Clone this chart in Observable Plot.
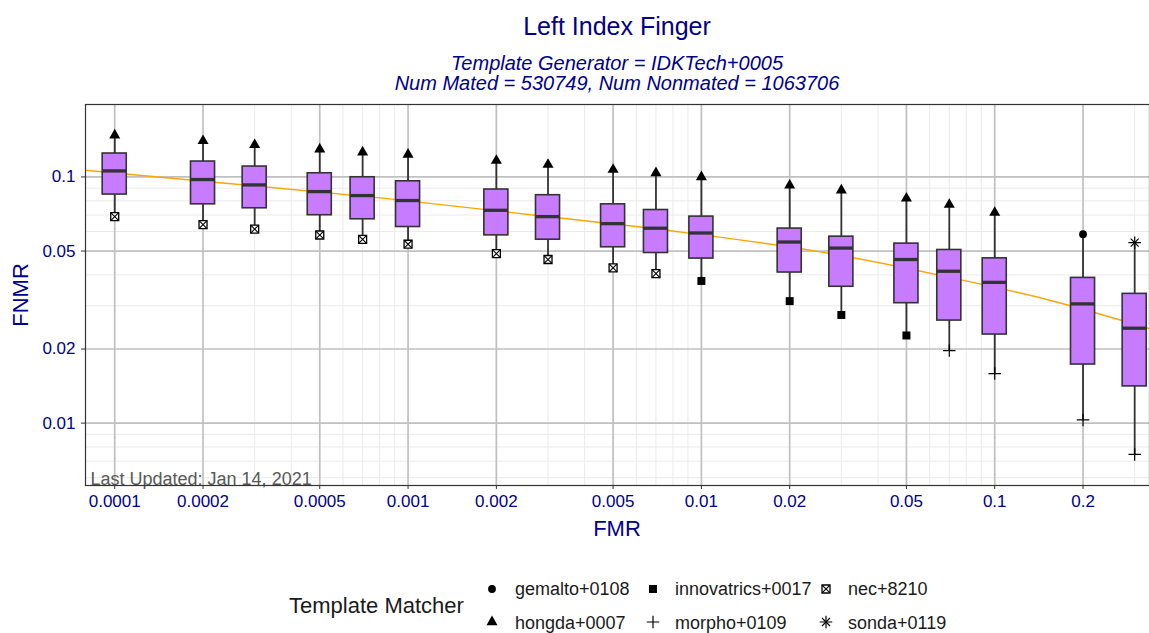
<!DOCTYPE html>
<html>
<head>
<meta charset="utf-8">
<script src="https://cdn.jsdelivr.net/npm/d3@7"></script>
<script src="https://cdn.jsdelivr.net/npm/@observablehq/plot@0.6"></script>
<style>
  body { margin: 0; background: #fff; font-family: "Liberation Sans", Arial, sans-serif; }
  #wrap { position: relative; width: 1149px; height: 633px; overflow: hidden; background: #fff; }
  .t { position: absolute; white-space: nowrap; line-height: 1; }
  #chart { position: absolute; left: 0; top: 95px; }
  #chart g[aria-label="x-axis tick"], #chart g[aria-label="y-axis tick"] { stroke: #333 !important; }
</style>
</head>
<body>
<div id="wrap"></div>
<script>
// ---------- data ----------
const titleText = "Left Index Finger";
const subtitleLines = ["Template Generator = IDKTech+0005", "Num Mated = 530749, Num Nonmated = 1063706"];
const xTitle = "FMR";
const yTitle = "FNMR";
const legendTitle = "Template Matcher";
const updatedNote = ["Last Updated: Jan 14, 2021"];

const fmr      = [0.0001, 0.0002, 0.0003, 0.0005, 0.0007, 0.001, 0.002, 0.003, 0.005, 0.007, 0.01, 0.02, 0.03, 0.05, 0.07, 0.1, 0.2, 0.3];
const fnmrMax  = [0.1477, 0.1401, 0.1349, 0.1296, 0.1260, 0.1234, 0.1166, 0.1123, 0.1072, 0.1038, 0.1000, 0.0925, 0.0883, 0.0819, 0.0772, 0.0717, 0.0585, 0.0541];
const fnmrQ3   = [0.1245, 0.1155, 0.1102, 0.1035, 0.0997, 0.0960, 0.0889, 0.0843, 0.0774, 0.0734, 0.0690, 0.0617, 0.0572, 0.0536, 0.0505, 0.0467, 0.0389, 0.0335];
const fnmrMed  = [0.1058, 0.0976, 0.0928, 0.0872, 0.0840, 0.0802, 0.0732, 0.0690, 0.0646, 0.0619, 0.0592, 0.0544, 0.0514, 0.0462, 0.0414, 0.0373, 0.0305, 0.0243];
const fnmrQ1   = [0.0848, 0.0774, 0.0746, 0.0699, 0.0673, 0.0626, 0.0579, 0.0556, 0.0518, 0.0491, 0.0466, 0.0409, 0.0358, 0.0307, 0.0261, 0.0229, 0.0173, 0.0141];
const fnmrMin  = [0.0690, 0.0640, 0.0614, 0.0581, 0.0558, 0.0533, 0.0488, 0.0462, 0.0427, 0.0405, 0.0378, 0.0313, 0.0275, 0.0227, 0.0197, 0.0159, 0.0103, 0.00746];
const maxMatcher = ["hongda+0007","hongda+0007","hongda+0007","hongda+0007","hongda+0007","hongda+0007","hongda+0007","hongda+0007","hongda+0007","hongda+0007","hongda+0007","hongda+0007","hongda+0007","hongda+0007","hongda+0007","hongda+0007","gemalto+0108","sonda+0119"];
const minMatcher = ["nec+8210","nec+8210","nec+8210","nec+8210","nec+8210","nec+8210","nec+8210","nec+8210","nec+8210","nec+8210","innovatrics+0017","innovatrics+0017","innovatrics+0017","innovatrics+0017","morpho+0109","morpho+0109","morpho+0109","morpho+0109"];

const trendFmr  = [0.0000795, 0.000219, 0.000835, 0.00271, 0.00882, 0.0287, 0.0708, 0.155, 0.337];
const trendFnmr = [0.1065, 0.0952, 0.0818, 0.0699, 0.0594, 0.0484, 0.0390, 0.0315, 0.0242];

const xTicks = [0.0001, 0.0002, 0.0005, 0.001, 0.002, 0.005, 0.01, 0.02, 0.05, 0.1, 0.2];
const xTickLabels = ["0.0001", "0.0002", "0.0005", "0.001", "0.002", "0.005", "0.01", "0.02", "0.05", "0.1", "0.2"];
const xMinor = [0.0003, 0.0004, 0.0006, 0.0007, 0.0008, 0.0009, 0.003, 0.004, 0.006, 0.007, 0.008, 0.009, 0.03, 0.04, 0.06, 0.07, 0.08, 0.09, 0.3];
const yTicks = [0.01, 0.02, 0.05, 0.1];
const yTickLabels = ["0.01", "0.02", "0.05", "0.1"];
const yMinor = [0.006, 0.007, 0.008, 0.009, 0.03, 0.04, 0.06, 0.07, 0.08, 0.09];

const legendRow1 = ["gemalto+0108", "innovatrics+0017", "nec+8210"];
const legendRow2 = ["hongda+0007", "morpho+0109", "sonda+0119"];

// ---------- styles ----------
const navy = "#00008B";
const boxFill = "#C77CFF";
const dark = "#333333";
const symbolSpec = {
  "gemalto+0108":     [{symbol: "circle", r: 3.9, fill: "black"}],
  "innovatrics+0017": [{symbol: "square", r: 4.5, fill: "black"}],
  "nec+8210":         [{symbol: "square", r: 4.5, fill: "white", stroke: "black", strokeWidth: 1.3},
                       {symbol: "times", r: 3.7, stroke: "black", strokeWidth: 1.1}],
  "hongda+0007":      [{symbol: "triangle", r: 4.1, fill: "black"}],
  "morpho+0109":      [{symbol: "plus", r: 4.1, stroke: "black", strokeWidth: 1.2}],
  "sonda+0119":       [{symbol: "plus", r: 4.1, stroke: "black", strokeWidth: 1.2},
                       {symbol: "times", r: 3.7, stroke: "black", strokeWidth: 1.2}]
};

const rows = fmr.map((f, i) => ({
  fmr: f, min: fnmrMin[i], q1: fnmrQ1[i], med: fnmrMed[i], q3: fnmrQ3[i], max: fnmrMax[i],
  minBy: minMatcher[i], maxBy: maxMatcher[i]
}));
const points = rows.flatMap(r => [
  {fmr: r.fmr, v: r.max, m: r.maxBy},
  {fmr: r.fmr, v: r.min, m: r.minBy}
]);
const trend = trendFmr.map((f, i) => ({f, v: trendFnmr[i]}));
const xTickData = xTicks.map((t, i) => ({t, label: xTickLabels[i]}));

const halfDec = 0.041; // half box width, in decades
const lo = d => d.fmr * Math.pow(10, -halfDec);
const hi = d => d.fmr * Math.pow(10, halfDec);

const yLab = new Map(yTicks.map((t, i) => [t, yTickLabels[i]]));

const markerMarks = Object.entries(symbolSpec).flatMap(([name, parts]) =>
  parts.map(p => Plot.dot(points.filter(d => d.m === name), {
    x: "fmr", y: "v", symbol: p.symbol, r: p.r,
    fill: p.fill || "none", stroke: p.stroke || "none", strokeWidth: p.strokeWidth || 1
  }))
);

const panelH = 381;
const chart = Plot.plot({
  width: 1149, height: 460,
  marginTop: 9, marginBottom: 70, marginLeft: 85, marginRight: 0,
  style: {fontFamily: "'Liberation Sans', Arial, sans-serif", fontSize: "17px", color: navy, background: "transparent"},
  x: {type: "log", domain: [7.95e-5, 0.337], axis: null},
  y: {type: "log", domain: [0.00558, 0.1969], ticks: yTicks, tickFormat: d => yLab.get(d), tickSize: 4, tickPadding: 6, label: null},
  marks: [
    Plot.ruleX(xMinor, {stroke: "#ebebeb", strokeWidth: 1}),
    Plot.ruleY(yMinor, {stroke: "#ebebeb", strokeWidth: 1}),
    Plot.ruleX(xTicks, {stroke: "#c0c0c0", strokeWidth: 1.7}),
    Plot.ruleY(yTicks, {stroke: "#c0c0c0", strokeWidth: 1.7}),
    Plot.line(trend, {x: "f", y: "v", stroke: "orange", strokeWidth: 1.4, curve: "monotone-x"}),
    Plot.ruleX(rows, {x: "fmr", y1: "min", y2: "max", stroke: dark, strokeWidth: 1.8}),
    Plot.rect(rows, {x1: lo, x2: hi, y1: "q1", y2: "q3", fill: boxFill, stroke: dark, strokeWidth: 1.6}),
    Plot.ruleY(rows, {y: "med", x1: lo, x2: hi, stroke: dark, strokeWidth: 3.3}),
    ...markerMarks,
    Plot.text(updatedNote, {frameAnchor: "bottom-left", dx: 5, dy: -1, textAnchor: "start", lineAnchor: "bottom",
      fill: "#595959", fontSize: 18}),
    Plot.frame({stroke: dark, strokeWidth: 1.2}),
    // x axis: tick marks and labels below the panel
    Plot.ruleX(xTickData, {x: "t", insetTop: panelH, insetBottom: -4, stroke: dark, strokeWidth: 1}),
    Plot.text(xTickData, {x: "t", text: "label", frameAnchor: "bottom", lineAnchor: "top", dy: 9, fill: navy, fontSize: 17})
  ]
});
chart.id = "chart";

// ---------- layout ----------
const wrap = document.getElementById("wrap");
function addText(txt, left, top, size, opts = {}) {
  const d = document.createElement("div");
  d.className = "t";
  d.textContent = txt;
  d.style.left = left + "px";
  d.style.top = top + "px";
  d.style.fontSize = size + "px";
  d.style.color = opts.color || navy;
  if (opts.italic) d.style.fontStyle = "italic";
  if (opts.transform) d.style.transform = opts.transform;
  wrap.appendChild(d);
  return d;
}
wrap.appendChild(chart);
const cx = (85 + 1149) / 2;
addText(titleText, cx, 13.8, 25, {transform: "translateX(-50%)"});
addText(subtitleLines[0], cx, 52.6, 20, {italic: true, transform: "translateX(-50%)"});
addText(subtitleLines[1], cx, 73.2, 20, {italic: true, transform: "translateX(-50%)"});
addText(xTitle, cx, 518, 22, {transform: "translateX(-50%)"});
addText(yTitle, 21, 295, 22, {transform: "translate(-50%,-50%) rotate(-90deg)"});

// legend
addText(legendTitle, 289, 595.4, 22, {color: "#1a1a1a"});
function symbolSvg(name) {
  const parts = symbolSpec[name];
  const symMap = {circle: d3.symbolCircle, square: d3.symbolSquare, triangle: d3.symbolTriangle, plus: d3.symbolPlus, times: d3.symbolTimes};
  const paths = parts.map(p => {
    const path = d3.symbol(symMap[p.symbol], Math.PI * p.r * p.r)();
    return `<path transform="translate(9,9)" d="${path}" fill="${p.fill || "none"}" stroke="${p.stroke || "none"}" stroke-width="${p.strokeWidth || 1}"/>`;
  }).join("");
  return `<svg width="18" height="18" style="position:absolute" xmlns="http://www.w3.org/2000/svg">${paths}</svg>`;
}
const colSym = [492, 653, 826];
const colText = [515, 675, 848];
const rowCenter = [589, 622];
const rowTop = [579.8, 613.8];
[legendRow1, legendRow2].forEach((row, ri) => {
  row.forEach((name, ci) => {
    const s = document.createElement("div");
    s.style.position = "absolute";
    s.style.left = (colSym[ci] - 9) + "px";
    s.style.top = (rowCenter[ri] - 9) + "px";
    s.innerHTML = symbolSvg(name);
    wrap.appendChild(s);
    addText(name, colText[ci], rowTop[ri], 18, {color: "#1a1a1a"});
  });
});
</script>
</body>
</html>
